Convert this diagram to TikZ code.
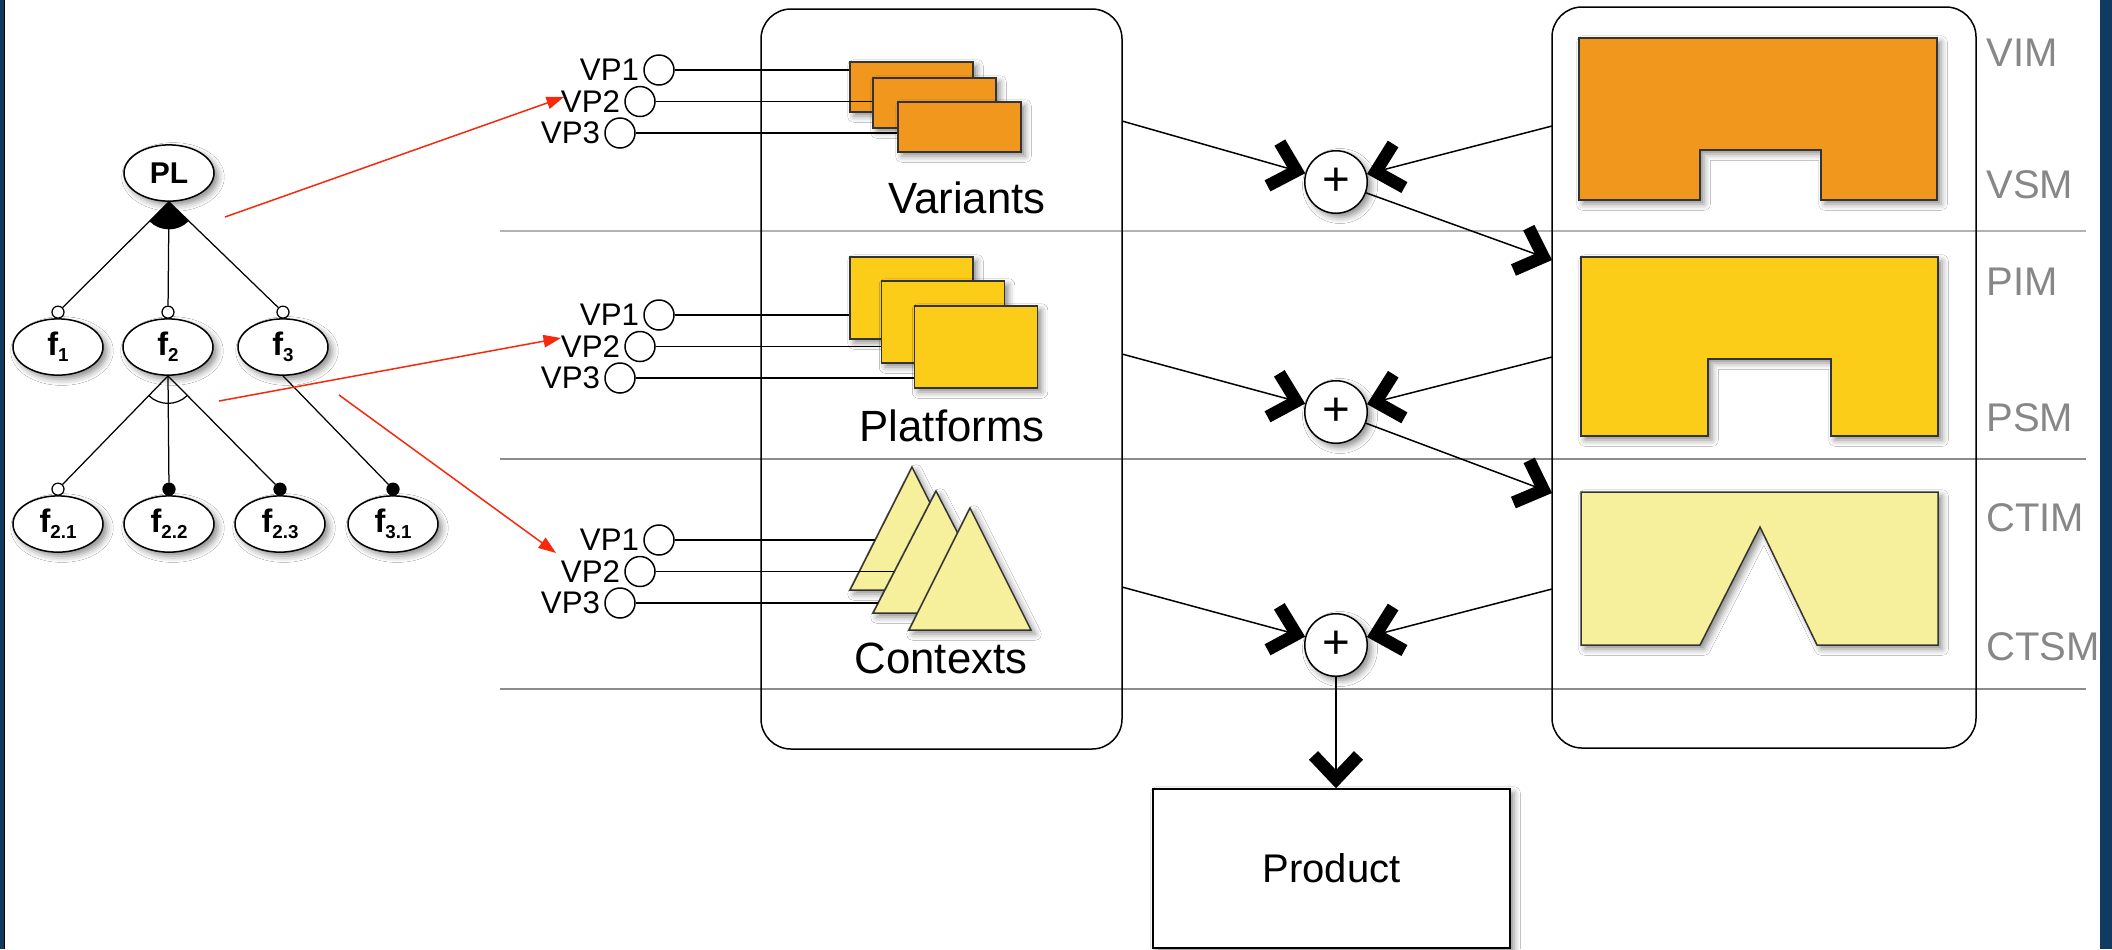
\documentclass[tikz,border=0pt]{standalone}
\usepackage{fontspec}
\setmainfont{Liberation Sans}
\usepackage{tikz}
\usetikzlibrary{arrows.meta,shapes.geometric,shadows.blur,calc}
\definecolor{navy}{RGB}{16,58,96}
\definecolor{varorange}{RGB}{242,151,30}
\definecolor{platyellow}{RGB}{251,204,24}
\definecolor{ctxyellow}{RGB}{246,239,155}
\definecolor{linkred}{RGB}{248,40,12}
\definecolor{levelgray}{RGB}{135,135,135}
\newcommand{\fsub}[1]{f\raisebox{-2.5pt}{\fontsize{7.5}{7.5}\selectfont #1}}
\tikzset{
  shade off/.style={blur shadow={shadow xshift=1.6pt, shadow yshift=-1.6pt, shadow blur radius=2.5pt, shadow opacity=45}},
  feature/.style={draw, ellipse, fill=white, line width=0.6pt, minimum width=36pt, minimum height=22.5pt, inner sep=0pt, shade off, font=\bfseries\fontsize{13}{13}\selectfont},
  optional/.style={draw, circle, fill=white, line width=0.5pt, minimum size=4.8pt, inner sep=0pt},
  mandatory/.style={optional, fill=black},
  vp/.style={draw, circle, fill=white, line width=0.6pt, minimum size=12pt, inner sep=0pt},
  vplabel/.style={font=\fontsize{12.5}{12.5}\selectfont, inner sep=1.5pt},
  variant/.style={draw=black!80, fill=varorange, line width=0.6pt, minimum width=49.2pt, minimum height=20pt, inner sep=0pt, shade off},
  platform/.style={variant, fill=platyellow, minimum height=32.8pt},
  context/.style={draw=black!80, fill=ctxyellow, line width=0.6pt, shade off},
  model/.style={draw=black!80, line width=0.6pt, shade off},
  secname/.style={font=\fontsize{17.5}{17.5}\selectfont},
  lvltag/.style={anchor=west, inner sep=0pt, text=levelgray, font=\fontsize{16}{16}\selectfont},
  merge/.style={circle, draw, fill=white, line width=0.6pt, minimum size=25pt, inner sep=0pt, shade off, font=\fontsize{19}{19}\selectfont},
  flow/.style={line width=0.6pt, -{Straight Barb[length=9.5pt, width=18pt, line width=5pt]}},
  trace/.style={draw=linkred, line width=0.6pt, -{Triangle[length=7pt, width=5pt]}},
}
\begin{document}
\begin{tikzpicture}[x=0.4pt, y=-0.4pt]
\useasboundingbox (0,0) rectangle (2112,949);
% slide frame
\fill[navy] (0,0) rectangle (2112,949);
\fill[white] (4.5,0) rectangle (2100,949);
\draw[black, line width=0.5pt] (4.5,0) -- (4.5,949);

% level separators
\draw[black!30, line width=1pt] (500,231) -- (2086,231);
\draw[black!45, line width=0.6pt] (500,459) -- (2086,459);
\draw[black!45, line width=0.6pt] (500,689) -- (2086,689);

% feature model
\node[feature, font=\bfseries\fontsize{12}{12}\selectfont] (pl) at (169,173) {PL};
\node[feature] (f1) at (58,347) {\fsub{1}};
\node[feature] (f2) at (168,347) {\fsub{2}};
\node[feature] (f3) at (283,347) {\fsub{3}};
\node[feature] (f21) at (58,524) {\fsub{2.1}};
\node[feature] (f22) at (169,524) {\fsub{2.2}};
\node[feature] (f23) at (280,524) {\fsub{2.3}};
\node[feature] (f31) at (393,524) {\fsub{3.1}};
\foreach \f in {f1,f2,f3,f21}
  \node[optional] (o\f) at ($(\f.north)+(0,-6)$) {};
\foreach \f in {f22,f23,f31}
  \node[mandatory] (o\f) at ($(\f.north)+(0,-6)$) {};
\fill (pl.south) -- ++(-135:11pt) arc[start angle=-135, end angle=-45, radius=11pt] -- cycle;
\draw[line width=0.5pt] (f2.south) ++(-134:11pt) arc[start angle=-134, end angle=-46, radius=11pt];
\foreach \f in {f1,f2,f3}
  \draw[line width=0.5pt] (pl.south) -- (o\f);
\foreach \f in {f21,f22,f23}
  \draw[line width=0.5pt] (f2.south) -- (o\f);
\draw[line width=0.5pt] (f3.south) -- (of31);

% the two containers
\draw[line width=0.6pt, rounded corners=12pt] (761,9) rectangle (1122,749);
\draw[line width=0.6pt, rounded corners=12pt] (1552,7) rectangle (1976,748);

% variants, platforms, contexts
\node[variant] (ra1) at (911.5,87) {};
\node[variant] (ra2) at (934.5,103) {};
\node[variant] (ra3) at (959.5,127) {};
\node[platform] (rb1) at (911.5,298) {};
\node[platform] (rb2) at (943,322) {};
\node[platform] (rb3) at (976,347) {};
\draw[context] (912,467) -- (974,590) -- (850,590) -- cycle;
\draw[context] (936,491) -- (999,613) -- (873,613) -- cycle;
\draw[context] (970,508) -- (1031,630) -- (909,630) -- cycle;
\coordinate (ct1) at (875,540);
\coordinate (ct2) at (894.4,571.5);
\coordinate (ct3) at (878.2,603);

\foreach \g/\y in {a/70,b/315,c/540} {
  \node[vp, label={[vplabel]left:VP1}] (\g1) at (659,\y) {};
  \node[vp, label={[vplabel]left:VP2}] (\g2) at (640,\y+31.5) {};
  \node[vp, label={[vplabel]left:VP3}] (\g3) at (620,\y+63) {};
}
\foreach \i in {1,2,3} {
  \draw[line width=0.6pt] (a\i) -- (a\i -| ra\i.west);
  \draw[line width=0.6pt] (b\i) -- (b\i -| rb\i.west);
  \draw[line width=0.6pt] (c\i) -- (ct\i);
}
\node[secname] (var) at (967,198) {Variants};
\node[secname] (plat) at (952,426) {Platforms};
\node[secname] (ctx) at (941,658) {Contexts};

% models
\draw[model, fill=varorange] (1579,38) -- (1937,38) -- (1937,200) -- (1821,200) -- (1821,150) -- (1700,150) -- (1700,200) -- (1579,200) -- cycle;
\draw[model, fill=platyellow] (1581,257) -- (1938,257) -- (1938,436) -- (1831,436) -- (1831,359) -- (1708,359) -- (1708,436) -- (1581,436) -- cycle;
\draw[model, fill=ctxyellow] (1581,492) -- (1938,492) -- (1938,645) -- (1817,645) -- (1760,527) -- (1700,645) -- (1581,645) -- cycle;
\node[lvltag] (vim) at (1986,53) {VIM};
\node[lvltag] (vsm) at (1986,185) {VSM};
\node[lvltag] (pim) at (1986,282) {PIM};
\node[lvltag] (psm) at (1986,418) {PSM};
\node[lvltag] (ctim) at (1986,518) {CTIM};
\node[lvltag] (ctsm) at (1986,647) {CTSM};

% weaving
\node[merge] (p1) at (1336,182) {+};
\node[merge] (p2) at (1336,412) {+};
\node[merge] (p3) at (1336,645) {+};
\node[draw, line width=0.6pt, fill=white, minimum width=142.8pt, minimum height=63.6pt, shade off, font=\fontsize{16}{16}\selectfont] (prod) at (1331.5,868.5) {Product};
\coordinate (sa) at (1122,121);
\coordinate (sb) at (1122,354);
\coordinate (sc) at (1122,587);
\coordinate (ma) at (1552,126);
\coordinate (mb) at (1552,357);
\coordinate (mc) at (1552,589);
\coordinate (ta) at (1552,260);
\coordinate (tb) at (1552,493);
\draw[flow] (sa) -- (p1);
\draw[flow] (ma) -- (p1);
\draw[flow] (p1) -- (ta);
\draw[flow] (sb) -- (p2);
\draw[flow] (mb) -- (p2);
\draw[flow] (p2) -- (tb);
\draw[flow] (sc) -- (p3);
\draw[flow] (mc) -- (p3);
\draw[flow] (p3) -- (p3 |- prod.north);

% links from the feature model
\coordinate (la) at (225,217);
\coordinate (lb) at (219,401);
\coordinate (lc) at (339,395);
\coordinate (ea) at (564,97);
\coordinate (eb) at (561,338);
\coordinate (ec) at (556,553);
\draw[trace] (la) -- (ea);
\draw[trace] (lb) -- (eb);
\draw[trace] (lc) -- (ec);
\end{tikzpicture}
\end{document}
